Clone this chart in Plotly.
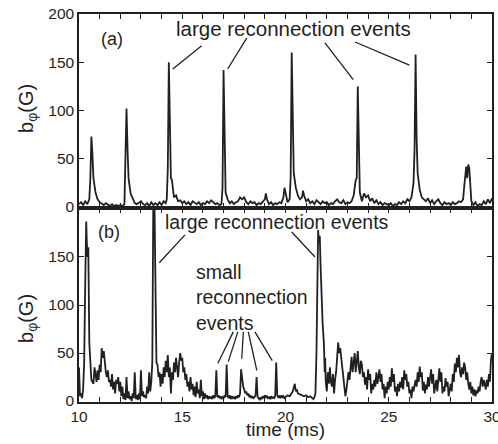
import plotly.graph_objects as go
from plotly.subplots import make_subplots

# ---------------- data ----------------
# panel (a): time (ms) and b_phi (G)
t_a = [10.0, 10.1, 10.2, 10.3, 10.4, 10.5, 10.55, 10.6, 10.65, 10.7,
       10.8, 10.9, 11.0, 11.1, 11.2, 11.3, 11.4, 11.5, 11.6, 11.7,
       11.8, 11.9, 12.0, 12.1, 12.2, 12.25, 12.3, 12.35, 12.4, 12.5,
       12.6, 12.7, 12.8, 12.9, 13.0, 13.1, 13.2, 13.3, 13.4, 13.5,
       13.6, 13.7, 13.8, 13.9, 14.0, 14.1, 14.2, 14.25, 14.3, 14.35,
       14.4, 14.45, 14.5, 14.6, 14.7, 14.8, 14.9, 15.0, 15.1, 15.2,
       15.3, 15.4, 15.5, 15.6, 15.7, 15.8, 15.9, 16.0, 16.1, 16.2,
       16.3, 16.4, 16.5, 16.6, 16.7, 16.8, 16.9, 16.95, 17.0, 17.05,
       17.1, 17.2, 17.3, 17.4, 17.5, 17.6, 17.7, 17.8, 17.9, 18.0,
       18.1, 18.2, 18.3, 18.4, 18.5, 18.6, 18.7, 18.8, 18.9, 19.0,
       19.05, 19.1, 19.2, 19.3, 19.4, 19.5, 19.6, 19.7, 19.8, 19.9,
       19.95, 20.0, 20.1, 20.2, 20.25, 20.3, 20.35, 20.4, 20.5, 20.6,
       20.7, 20.8, 20.85, 20.9, 21.0, 21.1, 21.2, 21.3, 21.4, 21.5,
       21.6, 21.7, 21.8, 21.9, 22.0, 22.1, 22.2, 22.3, 22.4, 22.5,
       22.6, 22.7, 22.8, 22.9, 23.0, 23.1, 23.2, 23.3, 23.4, 23.45,
       23.5, 23.55, 23.6, 23.7, 23.8, 23.9, 24.0, 24.1, 24.2, 24.3,
       24.4, 24.5, 24.6, 24.7, 24.8, 24.9, 25.0, 25.1, 25.2, 25.3,
       25.4, 25.5, 25.6, 25.7, 25.8, 25.9, 26.0, 26.1, 26.2, 26.25,
       26.3, 26.35, 26.4, 26.5, 26.6, 26.7, 26.8, 26.9, 27.0, 27.1,
       27.2, 27.3, 27.4, 27.5, 27.6, 27.7, 27.8, 27.9, 28.0, 28.1,
       28.2, 28.3, 28.4, 28.5, 28.6, 28.65, 28.7, 28.75, 28.8, 28.85,
       28.9, 28.95, 29.0, 29.1, 29.2, 29.3, 29.4, 29.5, 29.6, 29.7,
       29.8, 29.9, 30.0]
b_a = [3, 5, 2, 6, 3, 8, 30, 73, 55, 30,
       15, 8, 5, 3, 2, 4, 2, 1, 3, 1,
       2, 1, 2, 1, 3, 40, 102, 60, 30, 14,
       8, 4, 3, 5, 6, 3, 2, 4, 1, 5,
       2, 4, 2, 5, 2, 6, 4, 8, 40, 150,
       60, 30, 28, 10, 12, 6, 7, 4, 6, 3,
       5, 2, 6, 4, 3, 5, 2, 4, 3, 6,
       4, 7, 5, 3, 4, 2, 3, 20, 142, 50,
       15, 8, 4, 6, 3, 5, 6, 10, 8, 10,
       5, 3, 6, 4, 5, 2, 4, 3, 6, 8,
       14, 8, 3, 5, 2, 4, 3, 5, 4, 10,
       20, 16, 5, 8, 30, 160, 80, 35, 20, 12,
       8, 10, 17, 12, 6, 8, 4, 6, 3, 7,
       5, 3, 6, 4, 5, 2, 4, 3, 6, 8,
       5, 4, 7, 3, 5, 4, 6, 12, 28, 30,
       125, 60, 15, 6, 14, 10, 12, 6, 9, 4,
       7, 3, 5, 2, 4, 3, 2, 4, 1, 3,
       2, 5, 3, 6, 4, 8, 6, 10, 25, 60,
       158, 70, 35, 18, 10, 8, 6, 9, 4, 7,
       3, 6, 8, 4, 2, 5, 3, 4, 2, 5,
       3, 4, 6, 5, 8, 20, 35, 42, 30, 44,
       40, 15, 6, 2, 5, 1, 3, 2, 6, 3,
       8, 4, 9]

# panel (b): time (ms) and b_phi (G)
t_b = [10.0, 10.05, 10.1, 10.15, 10.2, 10.25, 10.3, 10.35, 10.4, 10.45,
       10.5, 10.55, 10.6, 10.7, 10.75, 10.8, 10.85, 10.9, 10.95, 11.0,
       11.05, 11.1, 11.15, 11.2, 11.25, 11.3, 11.35, 11.4, 11.45, 11.5,
       11.55, 11.6, 11.65, 11.7, 11.75, 11.8, 11.85, 11.9, 11.95, 12.0,
       12.05, 12.1, 12.15, 12.2, 12.25, 12.3, 12.35, 12.4, 12.45, 12.5,
       12.55, 12.6, 12.65, 12.7, 12.75, 12.8, 12.85, 12.9, 12.95, 13.0,
       13.05, 13.1, 13.15, 13.2, 13.25, 13.3, 13.35, 13.4, 13.45, 13.5,
       13.55, 13.6, 13.65, 13.7, 13.75, 13.8, 13.85, 13.9, 13.95, 14.0,
       14.05, 14.1, 14.15, 14.2, 14.25, 14.3, 14.35, 14.4, 14.45, 14.5,
       14.55, 14.6, 14.65, 14.7, 14.75, 14.8, 14.85, 14.9, 14.95, 15.0,
       15.05, 15.1, 15.15, 15.2, 15.25, 15.3, 15.35, 15.4, 15.45, 15.5,
       15.55, 15.6, 15.65, 15.7, 15.75, 15.8, 15.85, 15.9, 15.95, 16.0,
       16.05, 16.1, 16.15, 16.2, 16.25, 16.3, 16.35, 16.4, 16.45, 16.5,
       16.55, 16.6, 16.65, 16.7, 16.75, 16.8, 16.85, 16.9, 16.95, 17.0,
       17.05, 17.1, 17.15, 17.2, 17.25, 17.3, 17.35, 17.4, 17.45, 17.5,
       17.55, 17.6, 17.65, 17.7, 17.75, 17.8, 17.85, 17.9, 17.95, 18.0,
       18.05, 18.1, 18.15, 18.2, 18.25, 18.3, 18.35, 18.4, 18.45, 18.5,
       18.55, 18.6, 18.65, 18.7, 18.75, 18.8, 18.85, 18.9, 18.95, 19.0,
       19.05, 19.1, 19.15, 19.2, 19.25, 19.3, 19.35, 19.4, 19.45, 19.5,
       19.55, 19.6, 19.65, 19.7, 19.75, 19.8, 19.85, 19.9, 19.95, 20.0,
       20.1, 20.2, 20.3, 20.35, 20.4, 20.45, 20.5, 20.55, 20.6, 20.7,
       20.8, 20.9, 21.0, 21.1, 21.2, 21.3, 21.35, 21.4, 21.45, 21.5,
       21.55, 21.58, 21.62, 21.66, 21.7, 21.75, 21.8, 21.86, 21.9, 21.92,
       21.95, 22.0, 22.05, 22.1, 22.15, 22.2, 22.25, 22.3, 22.35, 22.4,
       22.45, 22.5, 22.55, 22.6, 22.65, 22.7, 22.75, 22.8, 22.85, 22.9,
       22.95, 23.0, 23.05, 23.1, 23.15, 23.2, 23.25, 23.3, 23.35, 23.4,
       23.45, 23.5, 23.55, 23.6, 23.65, 23.7, 23.75, 23.8, 23.85, 23.9,
       23.95, 24.0, 24.05, 24.1, 24.15, 24.2, 24.25, 24.3, 24.35, 24.4,
       24.45, 24.5, 24.55, 24.6, 24.65, 24.7, 24.75, 24.8, 24.85, 24.9,
       24.95, 25.0, 25.05, 25.1, 25.15, 25.2, 25.25, 25.3, 25.35, 25.4,
       25.45, 25.5, 25.55, 25.6, 25.65, 25.7, 25.75, 25.8, 25.85, 25.9,
       25.95, 26.0, 26.05, 26.1, 26.15, 26.2, 26.25, 26.3, 26.35, 26.4,
       26.45, 26.5, 26.55, 26.6, 26.65, 26.7, 26.75, 26.8, 26.85, 26.9,
       26.95, 27.0, 27.05, 27.1, 27.15, 27.2, 27.25, 27.3, 27.35, 27.4,
       27.45, 27.5, 27.55, 27.6, 27.65, 27.7, 27.75, 27.8, 27.85, 27.9,
       27.95, 28.0, 28.05, 28.1, 28.15, 28.2, 28.25, 28.3, 28.35, 28.4,
       28.45, 28.5, 28.55, 28.6, 28.65, 28.7, 28.75, 28.8, 28.85, 28.9,
       28.95, 29.0, 29.05, 29.1, 29.15, 29.2, 29.25, 29.3, 29.35, 29.4,
       29.45, 29.5, 29.55, 29.6, 29.65, 29.7, 29.75, 29.8, 29.85, 29.9,
       29.95, 30.0]
b_b = [35, 5, 8, 3, 12, 40, 120, 187, 150, 160,
       60, 40, 22, 18, 35, 28, 20, 32, 22, 38,
       30, 55, 45, 52, 40, 30, 25, 32, 20, 22,
       15, 28, 12, 20, 8, 22, 18, 25, 10, 20,
       5, 15, 2, 8, 1, 25, 3, 10, 2, 5,
       0, 8, 3, 30, 2, 6, 1, 8, 2, 32,
       5, 10, 4, 6, 3, 15, 8, 30, 10, 20,
       40, 215, 215, 120, 40, 38, 25, 30, 15, 28,
       18, 35, 25, 42, 30, 48, 25, 35, 8, 30,
       22, 40, 30, 45, 35, 25, 40, 50, 42, 45,
       30, 35, 22, 28, 15, 20, 10, 25, 12, 18,
       6, 15, 4, 20, 8, 12, 3, 22, 5, 10,
       2, 8, 3, 6, 2, 5, 3, 4, 2, 6,
       3, 5, 32, 4, 6, 3, 5, 2, 4, 3,
       6, 4, 38, 5, 3, 6, 2, 5, 3, 4,
       2, 5, 3, 6, 4, 8, 33, 20, 15, 12,
       8, 10, 6, 8, 4, 6, 3, 5, 3, 4,
       6, 25, 4, 3, 1, 4, 2, 5, 3, 6,
       4, 5, 3, 4, 2, 5, 3, 4, 3, 5,
       40, 6, 4, 5, 3, 6, 4, 5, 3, 4,
       6, 5, 8, 10, 14, 18, 10, 12, 8, 7,
       6, 5, 6, 4, 5, 3, 2, 4, 8, 50,
       150, 178, 165, 172, 140, 105, 80, 60, 30, 45,
       20, 10, 30, 18, 35, 20, 15, 28, 8, 22,
       30, 45, 61, 50, 55, 45, 30, 25, 15, 5,
       12, 20, 30, 22, 35, 46, 30, 38, 50, 30,
       40, 52, 35, 28, 42, 38, 25, 30, 17, 25,
       12, 33, 22, 28, 8, 18, 12, 22, 15, 30,
       18, 25, 33, 20, 28, 12, 18, 3, 15, 8,
       20, 12, 25, 15, 34, 20, 28, 10, 15, 5,
       18, 10, 20, 14, 25, 12, 32, 22, 28, 15,
       20, 8, 12, 3, 15, 10, 17, 22, 15, 30,
       20, 36, 25, 30, 11, 20, 8, 17, 12, 25,
       15, 22, 33, 18, 28, 8, 15, 22, 10, 28,
       34, 20, 30, 8, 15, 10, 24, 15, 20, 5,
       12, 18, 10, 28, 20, 39, 30, 45, 35, 48,
       30, 25, 35, 28, 40, 35, 22, 30, 18, 12,
       20, 8, 15, 6, 12, 5, 11, 8, 15, 10,
       20, 25, 15, 22, 18, 12, 22, 15, 28, 20,
       43, 50]

x_major_ticks = [10, 15, 20, 25, 30]
y_ticks_a = [0, 50, 100, 150, 200]
y_ticks_b = [0, 50, 100, 150]

# ---------------- figure ----------------
INK = "#231f20"
FONT = "Liberation Sans, Arial, Helvetica, sans-serif"

fig = make_subplots(rows=2, cols=1, shared_xaxes=True, vertical_spacing=0)
fig.add_trace(go.Scatter(x=t_a, y=b_a, mode="lines",
                         line=dict(color=INK, width=1.8), showlegend=False),
              row=1, col=1)
fig.add_trace(go.Scatter(x=t_b, y=b_b, mode="lines",
                         line=dict(color=INK, width=1.8), showlegend=False),
              row=2, col=1)

axis_common = dict(showline=True, linecolor=INK, linewidth=1.5, mirror="ticks",
                   ticks="inside", ticklen=5, tickwidth=1.3, tickcolor=INK,
                   showgrid=False, zeroline=False, automargin=False,
                   ticklabeloverflow="allow",
                   tickfont=dict(family=FONT, size=15.5, color=INK))

fig.update_xaxes(range=[10, 30], tickmode="array", tickvals=x_major_ticks,
                 minor=dict(dtick=1, ticks="inside", ticklen=5, tickwidth=1.3,
                            tickcolor=INK, showgrid=False),
                 **axis_common)
fig.update_xaxes(showticklabels=False, row=1, col=1)
fig.update_yaxes(range=[-1, 200], tickmode="array", tickvals=y_ticks_a,
                 row=1, col=1, **axis_common)
fig.update_yaxes(range=[-1, 201], tickmode="array", tickvals=y_ticks_b,
                 row=2, col=1, **axis_common)

# annotation leader lines (tail -> tip), in data coordinates
lines_a = [
    (15.94, 167, 14.54, 143),
    (18.12, 175, 17.20, 143),
    (21.91, 170, 23.28, 132),
    (23.37, 171, 26.00, 147),
]
lines_b = [
    (15.13, 173, 13.89, 144),
    (20.30, 176, 21.43, 150),
    (17.47, 72, 16.72, 39),
    (17.69, 72, 17.23, 41),
    (17.96, 72, 17.88, 44),
    (18.20, 72, 18.61, 32),
    (18.52, 72, 19.36, 42),
]
for x0, y0, x1, y1 in lines_a:
    fig.add_shape(type="line", x0=x0, y0=y0, x1=x1, y1=y1, xref="x", yref="y",
                  line=dict(color=INK, width=1.3))
for x0, y0, x1, y1 in lines_b:
    fig.add_shape(type="line", x0=x0, y0=y0, x1=x1, y1=y1, xref="x2", yref="y2",
                  line=dict(color=INK, width=1.3))

def txt(text, x, y, xref, yref, size, xanchor="center", align="center", angle=0):
    fig.add_annotation(text=text, x=x, y=y, xref=xref, yref=yref, showarrow=False,
                       xanchor=xanchor, yanchor="middle", align=align,
                       textangle=angle,
                       font=dict(family=FONT, size=size, color=INK))

txt("(a)", 11.6, 174, "x", "y", 18)
txt("large reconnection events", 20.39, 185.5, "x", "y", 20.5)
txt("(b)", 11.45, 176, "x2", "y2", 18)
txt("large reconnection events", 19.59, 186.5, "x2", "y2", 19.5)
txt("small<br>reconnection<br>events", 15.55, 108, "x2", "y2", 19.5,
    xanchor="left", align="left")

# axis titles
txt("b<sub>φ</sub>(G)", -0.1235, 0.758, "paper", "paper", 20, angle=-90)
txt("b<sub>φ</sub>(G)", -0.1235, 0.2165, "paper", "paper", 20, angle=-90)
txt("time (ms)", 0.5, -0.072, "paper", "paper", 19)

fig.update_layout(width=498, height=444,
                  margin=dict(l=79, r=6, t=14, b=42, autoexpand=False),
                  plot_bgcolor="white", paper_bgcolor="white",
                  font=dict(family=FONT, color=INK))

# remove the default 8 px page margin so the figure sits at the window origin
fig.write_html("out.html",
               config={"displayModeBar": False},
               post_script="document.body.style.margin='0';"
                           "document.body.style.overflow='hidden';")
